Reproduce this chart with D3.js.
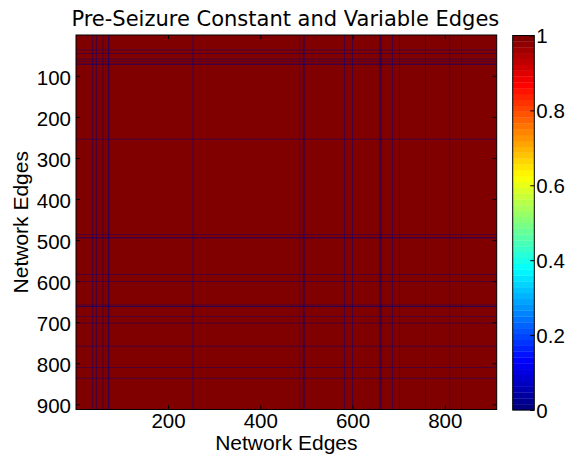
<!DOCTYPE html>
<html>
<head>
<meta charset="utf-8">
<script src="https://cdn.jsdelivr.net/npm/d3@7"></script>
<style>
  body { margin: 0; background: #fff; }
  svg { display: block; }
  .tick text { font-family: "Liberation Sans", Arial, sans-serif; font-size: 20.5px; fill: #000; }
  .tick line { stroke: #000; }
</style>
</head>
<body>
<div id="chart"></div>
<script>
// matrix size (edges x edges)
var edgeCount = 912;
// edges that are variable -> value 0 in the whole row and column, everything else is 1
var variableEdges = [37, 45, 59, 64, 71, 72, 254, 486, 494, 495, 583, 600, 658, 661, 662, 686, 702, 758, 811, 836];
var constantValue = 1;
var variableValue = 0;
var xTicks = [200, 400, 600, 800];
var yTicks = [100, 200, 300, 400, 500, 600, 700, 800, 900];
var colorbarTicks = [0, 0.2, 0.4, 0.6, 0.8, 1];

var W = 568, H = 457;
var plot = {left: 76, right: 496.7, top: 35, bottom: 409.5};
var cbar = {left: 512.7, right: 534.3, top: 35.5, bottom: 410};

// matlab jet colormap
function jet(t){
    var c = v => Math.max(0, Math.min(1, v));
    var r = c(1.5 - Math.abs(4*t - 3)),
        g = c(1.5 - Math.abs(4*t - 2)),
        b = c(1.5 - Math.abs(4*t - 1));
    return d3.rgb(r*255, g*255, b*255).formatHex();
}

var svg = d3.select('#chart').append('svg')
    .attr('width', W)
    .attr('height', H);

var x = d3.scaleLinear().domain([0.5, edgeCount + 0.5]).range([plot.left, plot.right]);
var y = d3.scaleLinear().domain([0.5, edgeCount + 0.5]).range([plot.top, plot.bottom]);

//IMAGE
var img = svg.append('g');

img.append('rect')
    .attr('x', x(0.5))
    .attr('y', y(0.5))
    .attr('width', x(edgeCount + 0.5) - x(0.5))
    .attr('height', y(edgeCount + 0.5) - y(0.5))
    .attr('fill', jet(constantValue));

// variable columns
img.selectAll('.col')
    .data(variableEdges)
    .join('rect')
    .attr('class', 'col')
    .attr('x', d => x(d - 0.5))
    .attr('y', y(0.5))
    .attr('width', d => x(d + 0.5) - x(d - 0.5))
    .attr('height', y(edgeCount + 0.5) - y(0.5))
    .attr('fill', jet(variableValue));

// variable rows
img.selectAll('.row')
    .data(variableEdges)
    .join('rect')
    .attr('class', 'row')
    .attr('x', x(0.5))
    .attr('y', d => y(d - 0.5))
    .attr('width', x(edgeCount + 0.5) - x(0.5))
    .attr('height', d => y(d + 0.5) - y(d - 0.5))
    .attr('fill', jet(variableValue));

//AXES
var tl = 4;
svg.append('g')
    .attr('transform', `translate(${plot.left},0)`)
    .call(d3.axisLeft(y).tickValues(yTicks).tickSize(-tl).tickPadding(5))
    .call(g => g.select('.domain').remove())
    .selectAll('text').attr('dy', '0.4em');

svg.append('g')
    .attr('transform', `translate(${plot.right},0)`)
    .call(d3.axisRight(y).tickValues(yTicks).tickSize(-tl).tickFormat(''))
    .call(g => g.select('.domain').remove());

svg.append('g')
    .attr('transform', `translate(0,${plot.bottom})`)
    .call(d3.axisBottom(x).tickValues(xTicks).tickSize(-tl).tickPadding(4))
    .call(g => g.select('.domain').remove());

svg.append('g')
    .attr('transform', `translate(0,${plot.top})`)
    .call(d3.axisTop(x).tickValues(xTicks).tickSize(-tl).tickFormat(''))
    .call(g => g.select('.domain').remove());

svg.append('rect')
    .attr('x', plot.left)
    .attr('y', plot.top)
    .attr('width', plot.right - plot.left)
    .attr('height', plot.bottom - plot.top)
    .attr('fill', 'none')
    .attr('stroke', '#000')
    .attr('stroke-width', 1);

//LABELS
svg.append('text')
    .attr('x', (plot.left + plot.right) / 2 - 1)
    .attr('y', 26)
    .attr('text-anchor', 'middle')
    .attr('font-family', '"DejaVu Sans", sans-serif')
    .attr('font-size', 21)
    .text('Pre-Seizure Constant and Variable Edges');

svg.append('text')
    .attr('x', (plot.left + plot.right) / 2)
    .attr('y', 450)
    .attr('text-anchor', 'middle')
    .attr('font-family', '"Liberation Sans", Arial, sans-serif')
    .attr('font-size', 21)
    .text('Network Edges');

svg.append('text')
    .attr('transform', `translate(28,${(plot.top + plot.bottom) / 2}) rotate(-90)`)
    .attr('text-anchor', 'middle')
    .attr('font-family', '"Liberation Sans", Arial, sans-serif')
    .attr('font-size', 21)
    .text('Network Edges');

//COLORBAR
var nColors = 64;
var cy = d3.scaleLinear().domain([0, 1]).range([cbar.bottom, cbar.top]);
var steps = d3.range(nColors).map(i => (i + 0.5) / nColors);

svg.append('g')
    .selectAll('rect')
    .data(steps)
    .join('rect')
    .attr('x', cbar.left)
    .attr('width', cbar.right - cbar.left)
    .attr('y', d => cy(d + 0.5 / nColors))
    .attr('height', (cbar.bottom - cbar.top) / nColors + 0.3)
    .attr('fill', d => jet((d * nColors - 0.5) / (nColors - 1)));

svg.append('g')
    .attr('transform', `translate(${cbar.right},0)`)
    .call(d3.axisRight(cy).tickValues(colorbarTicks).tickSize(-tl).tickPadding(2).tickFormat(d => String(d)))
    .call(g => g.select('.domain').remove())
    .selectAll('text').attr('dy', '0.36em');

svg.append('rect')
    .attr('x', cbar.left)
    .attr('y', cbar.top)
    .attr('width', cbar.right - cbar.left)
    .attr('height', cbar.bottom - cbar.top)
    .attr('fill', 'none')
    .attr('stroke', '#000')
    .attr('stroke-width', 1);
</script>
</body>
</html>
